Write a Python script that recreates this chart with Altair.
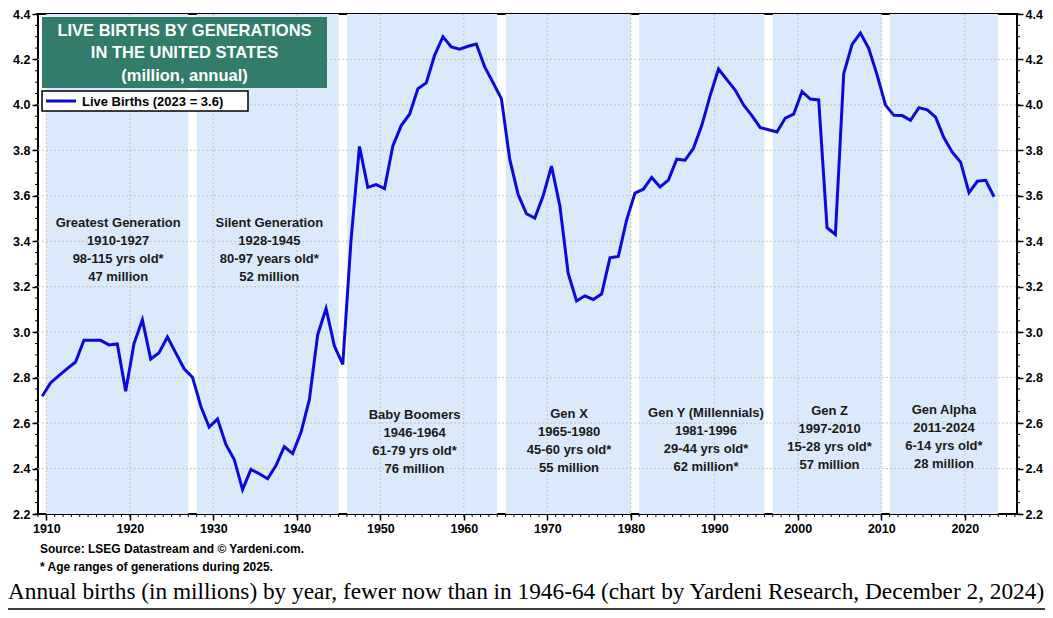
import altair as alt
import pandas as pd

# ---------------- data ----------------
years = list(range(1909, 2024))
births = [
    2.718, 2.777, 2.809, 2.840, 2.869, 2.965, 2.965, 2.964, 2.944, 2.948,   # 1909-1918
    2.740, 2.950, 3.055, 2.882, 2.910, 2.979, 2.909, 2.839, 2.802, 2.674,   # 1919-1928
    2.582, 2.618, 2.506, 2.440, 2.307, 2.396, 2.377, 2.355, 2.413, 2.496,   # 1929-1938
    2.466, 2.559, 2.703, 2.989, 3.104, 2.939, 2.858, 3.411, 3.817, 3.637,   # 1939-1948
    3.649, 3.632, 3.820, 3.909, 3.959, 4.071, 4.097, 4.218, 4.300, 4.255,   # 1949-1958
    4.245, 4.258, 4.268, 4.167, 4.098, 4.027, 3.760, 3.606, 3.521, 3.502,   # 1959-1968
    3.600, 3.731, 3.556, 3.258, 3.137, 3.160, 3.144, 3.168, 3.327, 3.333,   # 1969-1978
    3.494, 3.612, 3.629, 3.681, 3.639, 3.669, 3.761, 3.757, 3.809, 3.910,   # 1979-1988
    4.041, 4.158, 4.111, 4.065, 4.000, 3.953, 3.900, 3.891, 3.881, 3.942,   # 1989-1998
    3.959, 4.059, 4.026, 4.022, 3.460, 3.430, 4.138, 4.266, 4.316, 4.248,   # 1999-2008
    4.131, 3.999, 3.954, 3.953, 3.932, 3.988, 3.978, 3.946, 3.855, 3.792,   # 2009-2018
    3.748, 3.614, 3.664, 3.668, 3.596,                                       # 2019-2023
]

gen_names = ["Greatest Generation", "Silent Generation", "Baby Boomers", "Gen X",
             "Gen Y (Millennials)", "Gen Z", "Gen Alpha"]
gen_start = [1910, 1928, 1946, 1965, 1981, 1997, 2011]
gen_end = [1927, 1945, 1964, 1980, 1996, 2010, 2024]
gen_years = ["1910-1927", "1928-1945", "1946-1964", "1965-1980", "1981-1996", "1997-2010", "2011-2024"]
gen_ages = ["98-115 yrs old*", "80-97 years old*", "61-79 yrs old*", "45-60 yrs old*",
            "29-44 yrs old*", "15-28 yrs old*", "6-14 yrs old*"]
gen_millions = ["47 million", "52 million", "76 million", "55 million", "62 million*",
                "57 million", "28 million"]
label_x = [1918.6, 1936.7, 1954.1, 1972.6, 1989.0, 2003.8, 2017.5]
label_y = [3.482, 3.480, 2.636, 2.640, 2.644, 2.653, 2.658]

x_ticks = list(range(1910, 2030, 10))
y_ticks = [2.2, 2.4, 2.6, 2.8, 3.0, 3.2, 3.4, 3.6, 3.8, 4.0, 4.2, 4.4]
y_grid = [2.4, 2.6, 2.8, 3.0, 3.2, 3.4, 3.6, 3.8, 4.0, 4.2]
x_minor = list(range(1909, 2027))
y_minor = [round(2.2 + 0.05 * i, 2) for i in range(45)]

title_lines = ["LIVE BIRTHS BY GENERATIONS", "IN THE UNITED STATES", "(million, annual)"]
legend_label = "Live Births (2023 = 3.6)"
source_lines = ["Source: LSEG Datastream and \u00a9 Yardeni.com.",
                "* Age ranges of generations during 2025."]
caption = ("Annual births (in millions) by year, fewer now than in 1946-64 "
           "(chart by Yardeni Research, December 2, 2024)")

# ---------------- tables ----------------
df_line = pd.DataFrame({"year": years, "births": births})
df_gen = pd.DataFrame({"name": gen_names, "start": gen_start, "end": gen_end,
                       "yrs": gen_years, "ages": gen_ages, "mil": gen_millions,
                       "lx": label_x, "ly": label_y})
df_xt = pd.DataFrame({"v": x_ticks})
df_yg = pd.DataFrame({"v": y_grid})
df_xm = pd.DataFrame({"v": x_minor})
df_ym = pd.DataFrame({"v": y_minor})
dummy = pd.DataFrame({"a": [0]})

W, H = 979, 500
BLUE = "#0a0adc"
BAND = "#dbeafb"
GREEN = "#317c6b"
GRID = "#c4c4c4"
SANS = "Liberation Sans, Arial, sans-serif"

xs = alt.Scale(domain=[1909, 2026.25], nice=False, zero=False)
ys = alt.Scale(domain=[2.2, 4.4], nice=False, zero=False)

AX = dict(title=None, grid=False, domain=False, labelFont=SANS, labelFontSize=12.5,
          labelFontWeight="bold", labelColor="black", tickColor="black", tickSize=6,
          tickWidth=1.5, labelPadding=2)
xax = alt.Axis(values=x_ticks, format="d", **AX)
yax_left = alt.Axis(values=y_ticks, format=".1f", orient="left", **AX)
yax_right = alt.Axis(values=y_ticks, format=".1f", orient="right", **AX)


def X(f):
    return alt.X(f, type="quantitative", scale=xs, axis=xax)


def Y(f, ax=yax_left):
    return alt.Y(f, type="quantitative", scale=ys, axis=ax)


bands = alt.Chart(df_gen).mark_rect(color=BAND).encode(
    x=X("start"), x2="end", y=alt.value(0), y2=alt.value(H))

vgrid = alt.Chart(df_xt).mark_rule(color=GRID, strokeDash=[2, 2], strokeWidth=1).encode(
    x=X("v"), y=alt.value(0), y2=alt.value(H))
hgrid = alt.Chart(df_yg).mark_rule(color=GRID, strokeDash=[2, 2], strokeWidth=1).encode(
    y=Y("v"), x=alt.value(0), x2=alt.value(W))

line = alt.Chart(df_line).transform_calculate(xpos="datum.year + 0.5").mark_line(
    color=BLUE, strokeWidth=3, strokeJoin="miter").encode(x=X("xpos"), y=Y("births"))

gen_text = []
for k, f in enumerate(["name", "yrs", "ages", "mil"]):
    gen_text.append(
        alt.Chart(df_gen).mark_text(font=SANS, fontSize=13, fontWeight="bold",
                                    color="#1a1a1a", align="center", baseline="middle",
                                    dy=18 * k).encode(x=X("lx"), y=Y("ly"), text=f))

xminor = alt.Chart(df_xm).mark_rule(color="black", strokeWidth=1).encode(
    x=X("v"), y=alt.value(H), y2=alt.value(H + 3))
yminor_l = alt.Chart(df_ym).mark_rule(color="black", strokeWidth=1).encode(
    y=Y("v"), x=alt.value(-3), x2=alt.value(0))
yminor_r = alt.Chart(df_ym).mark_rule(color="black", strokeWidth=1).encode(
    y=Y("v"), x=alt.value(W), x2=alt.value(W + 3))


def deco_text(txt, x, y, **kw):
    return alt.Chart(dummy).mark_text(**kw).encode(
        x=alt.value(x), y=alt.value(y), text=alt.value(txt))


title_box = alt.Chart(dummy).mark_rect(color=GREEN).encode(
    x=alt.value(4), x2=alt.value(289), y=alt.value(3), y2=alt.value(74))
title_txt = [deco_text(t, 146.5, 16.7 + 22.7 * i, font=SANS, fontSize=16.5,
                       fontWeight="bold", color="white", align="center",
                       baseline="middle") for i, t in enumerate(title_lines)]
legend_box = alt.Chart(dummy).mark_rect(fill="white", stroke="black", strokeWidth=1.5).encode(
    x=alt.value(4), x2=alt.value(210), y=alt.value(77), y2=alt.value(97))
legend_line = alt.Chart(dummy).mark_rule(color=BLUE, strokeWidth=3).encode(
    x=alt.value(8), x2=alt.value(38), y=alt.value(87))
legend_txt = deco_text(legend_label, 44, 87.5, font=SANS, fontSize=13, fontWeight="bold",
                       color="black", align="left", baseline="middle")

src = [deco_text(t, 2, 535 + 18 * i, font=SANS, fontSize=12, fontWeight="bold",
                 color="black", align="left", baseline="middle")
       for i, t in enumerate(source_lines)]
cap = deco_text(caption, -30, 578, font="Liberation Serif, Times New Roman, serif",
                fontSize=23.3, color="black", align="left", baseline="middle")
bottom_rule = alt.Chart(dummy).mark_rule(color="black", strokeWidth=1.5).encode(
    x=alt.value(-30), x2=alt.value(1007), y=alt.value(595))

main = alt.layer(bands, vgrid, hgrid, line, *gen_text, xminor, yminor_l, yminor_r,
                 title_box, *title_txt, legend_box, legend_line, legend_txt,
                 *src, cap, bottom_rule)

right = alt.Chart(df_line).transform_calculate(xpos="datum.year + 0.5").mark_line(
    opacity=0).encode(x=X("xpos"), y=Y("births", yax_right))

chart = alt.layer(main, right).resolve_axis(y="independent").properties(
    width=W, height=H,
    padding={"left": 30, "top": 6, "right": 28, "bottom": 96},
    autosize=alt.AutoSizeParams(type="none"),
    background="white",
).configure_view(stroke="black", strokeWidth=2)

chart.save("out.html", embed_options={"renderer": "svg", "actions": False})
